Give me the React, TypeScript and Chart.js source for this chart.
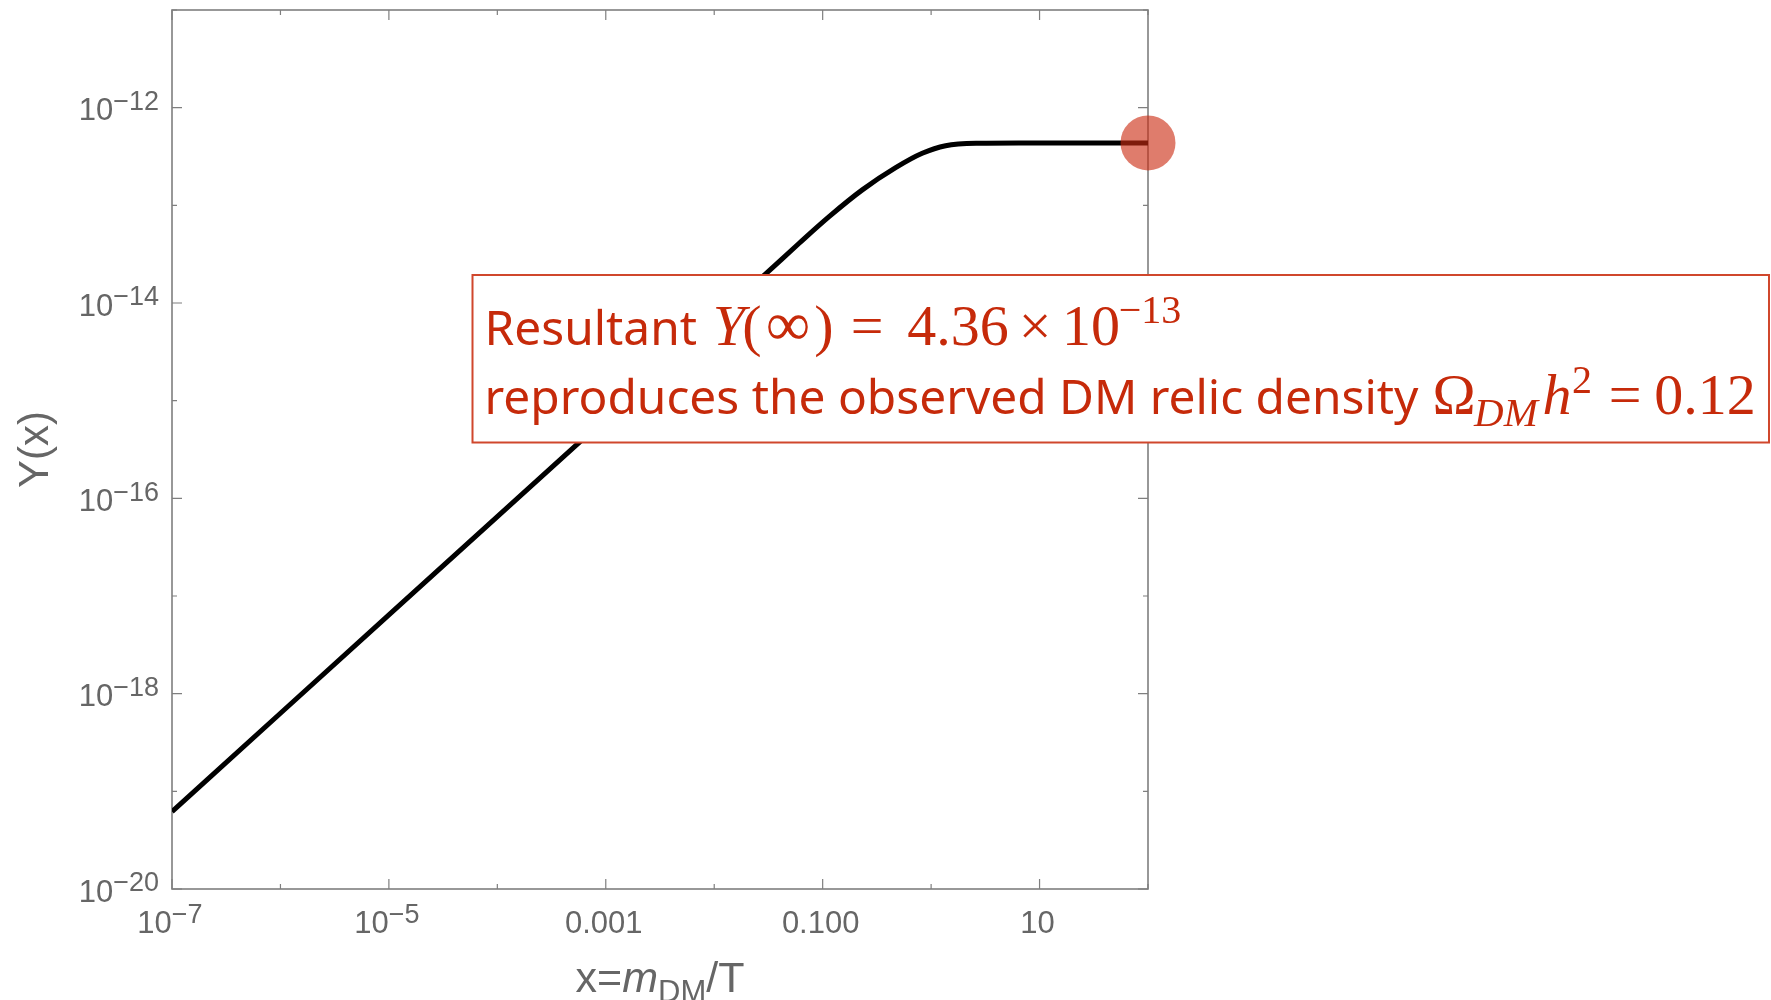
import { useEffect, useRef } from "react";
import { Chart, registerables } from "chart.js";
Chart.register(...registerables);

// Curve Y(x) (log-log)
const xValues = [1e-7, 1e-6, 1e-5, 1e-4, 1e-3, 1e-2, 0.03, 0.0607, 0.1146, 0.232, 0.471, 0.828, 1.36, 2.75, 6.4, 20, 100];
const yValues = [6.2e-20, 6.3e-19, 6.4e-18, 6.5e-17, 6.6e-16, 6.7e-15, 2.0e-14, 4.09e-14, 7.66e-14, 1.44e-13, 2.43e-13, 3.41e-13, 4.08e-13, 4.33e-13, 4.36e-13, 4.36e-13, 4.36e-13];

// Final value marker
const markerX = [100];
const markerY = [4.36e-13];

// Axis ticks
const xMajorTicks = [1e-7, 1e-5, 1e-3, 0.1, 10];
const xMajorLabels: [string, string][] = [["10", "−7"], ["10", "−5"], ["0.001", ""], ["0.100", ""], ["10", ""]];
const xMinorTicks = [1e-6, 1e-4, 1e-2, 1, 100];
const yMajorTicks = [1e-12, 1e-14, 1e-16, 1e-18, 1e-20];
const yMajorLabels: [string, string][] = [["10", "−12"], ["10", "−14"], ["10", "−16"], ["10", "−18"], ["10", "−20"]];
const yMinorTicks = [1e-11, 1e-13, 1e-15, 1e-17, 1e-19];

const X_MIN = 1e-7, X_MAX = 100, Y_MIN = 1e-20, Y_MAX = 1e-11;

const GRAY = "#7f7f7f";
const LABEL = "#666666";
const RED = "#c62a0a";
const SANS = '"Liberation Sans", Arial, sans-serif';
const SERIF = '"Liberation Serif", "Times New Roman", serif';
const TEXT_SANS = '"Noto Sans", sans-serif';

type Run = { text: string; font: string; dy?: number; x?: number; cx?: number };

function runsWidth(ctx: CanvasRenderingContext2D, runs: Run[]) {
  let w = 0;
  for (const r of runs) { ctx.font = r.font; w += ctx.measureText(r.text).width; }
  return w;
}
function drawRuns(ctx: CanvasRenderingContext2D, runs: Run[], x: number, baseline: number) {
  let cx = x;
  for (const r of runs) {
    ctx.font = r.font;
    const w = ctx.measureText(r.text).width;
    let px = cx;
    if (r.x !== undefined) px = r.x;
    if (r.cx !== undefined) px = r.cx - w / 2;
    ctx.fillText(r.text, px, baseline + (r.dy || 0));
    cx = px + w;
  }
}
function labelRuns(l: [string, string]): Run[] {
  const runs: Run[] = [{ text: l[0], font: `31px ${SANS}` }];
  if (l[1]) runs.push({ text: l[1], font: `27px ${SANS}`, dy: -10.5 });
  return runs;
}

const decorPlugin = {
  id: "decor",
  beforeDatasetsDraw(chart: any) {
    const { ctx, chartArea: a, scales } = chart;
    const xs = scales.x, ys = scales.y;
    ctx.save();
    ctx.strokeStyle = GRAY;
    ctx.lineWidth = 1.6;
    ctx.strokeRect(a.left, a.top, a.right - a.left, a.bottom - a.top);
    ctx.lineWidth = 1.2;
    const xt = (v: number, len: number) => {
      const p = xs.getPixelForValue(v);
      ctx.beginPath();
      ctx.moveTo(p, a.bottom); ctx.lineTo(p, a.bottom - len);
      ctx.moveTo(p, a.top); ctx.lineTo(p, a.top + len);
      ctx.stroke();
    };
    const yt = (v: number, len: number) => {
      const p = ys.getPixelForValue(v);
      ctx.beginPath();
      ctx.moveTo(a.left, p); ctx.lineTo(a.left + len, p);
      ctx.moveTo(a.right, p); ctx.lineTo(a.right - len, p);
      ctx.stroke();
    };
    xMajorTicks.forEach((v) => xt(v, 10));
    xMinorTicks.forEach((v) => xt(v, 5));
    yMajorTicks.forEach((v) => yt(v, 10));
    yMinorTicks.forEach((v) => yt(v, 5));
    ctx.restore();
  },
  afterDraw(chart: any) {
    const { ctx, chartArea: a, scales } = chart;
    const xs = scales.x, ys = scales.y;
    ctx.save();
    ctx.fillStyle = LABEL;
    ctx.textBaseline = "alphabetic";
    ctx.textAlign = "left";
    // y tick labels
    yMajorTicks.forEach((v, i) => {
      const runs = labelRuns(yMajorLabels[i]);
      const w = runsWidth(ctx, runs);
      const p = ys.getPixelForValue(v);
      drawRuns(ctx, runs, a.left - 13 - w, p + 12.7);
    });
    // x tick labels
    xMajorTicks.forEach((v, i) => {
      const runs = labelRuns(xMajorLabels[i]);
      const w = runsWidth(ctx, runs);
      const p = xs.getPixelForValue(v);
      drawRuns(ctx, runs, p - w / 2 - 2, a.bottom + 44);
    });
    // axis titles
    ctx.save();
    ctx.translate(48, (a.top + a.bottom) / 2);
    ctx.rotate(-Math.PI / 2);
    ctx.font = `42px ${SANS}`;
    ctx.textAlign = "center";
    ctx.fillText("Y(x)", 0, 0);
    ctx.restore();
    const xt: Run[] = [
      { text: "x=", font: `43px ${SANS}` },
      { text: "m", font: `italic 43px ${SANS}` },
      { text: "DM", font: `31px ${SANS}`, dy: 10 },
      { text: "/T", font: `43px ${SANS}` },
    ];
    const xtw = runsWidth(ctx, xt);
    drawRuns(ctx, xt, (a.left + a.right) / 2 - xtw / 2, 992);

    // annotation box
    const bx = 472.5, by = 275, bw = 1769 - 472.5, bh = 442.5 - 275;
    ctx.fillStyle = "#ffffff";
    ctx.fillRect(bx, by, bw, bh);
    ctx.strokeStyle = "#d0472c";
    ctx.lineWidth = 2;
    ctx.strokeRect(bx, by, bw, bh);

    ctx.fillStyle = RED;
    const line2Sans = "reproduces the observed DM relic density";
    ctx.font = `48px ${TEXT_SANS}`;
    const fs = (48 * 934) / ctx.measureText(line2Sans).width;
    const sansF = `${fs.toFixed(2)}px ${TEXT_SANS}`;
    const M = `58px ${SERIF}`;
    const MI = `italic 58px ${SERIF}`;
    const S = `40px ${SERIF}`;
    const SI = `italic 41px ${SERIF}`;
    const line1: Run[] = [
      { text: "Resultant", font: sansF, x: 484.5 },
      { text: "Y", font: MI, cx: 729 },
      { text: "(", font: M, cx: 752 },
      { text: "∞", font: `62px ${SERIF}`, cx: 788 },
      { text: ")", font: M, cx: 824 },
      { text: "=", font: M, cx: 867 },
      { text: "4.36", font: M, cx: 958 },
      { text: "×", font: M, cx: 1035 },
      { text: "10", font: M, cx: 1091 },
      { text: "−13", font: S, cx: 1150, dy: -22 },
    ];
    drawRuns(ctx, line1, bx, 345);
    const line2: Run[] = [
      { text: line2Sans, font: sansF, x: 484.5 },
      { text: "Ω", font: M, cx: 1454 },
      { text: "DM", font: SI, cx: 1506, dy: 12 },
      { text: "h", font: MI, cx: 1557 },
      { text: "2", font: S, cx: 1582, dy: -21 },
      { text: "=", font: M, cx: 1625 },
      { text: "0.12", font: M, cx: 1705 },
    ];
    drawRuns(ctx, line2, bx, 414);
    ctx.restore();
  },
};

export default function App() {
  const ref = useRef<HTMLCanvasElement | null>(null);
  useEffect(() => {
    if (!ref.current) return;
    const chart = new Chart(ref.current, {
      type: "line",
      data: {
        datasets: [
          {
            type: "scatter",
            data: markerX.map((x, i) => ({ x, y: markerY[i] })),
            pointRadius: 27.5,
            pointHoverRadius: 27.5,
            backgroundColor: "rgba(204,44,18,0.62)",
            borderWidth: 0,
            clip: false,
            order: 0,
          } as any,
          {
            type: "line",
            data: xValues.map((x, i) => ({ x, y: yValues[i] })),
            borderColor: "#000000",
            borderWidth: 5,
            pointRadius: 0,
            cubicInterpolationMode: "monotone",
            fill: false,
            order: 1,
          } as any,
        ],
      },
      options: {
        animation: false,
        responsive: false,
        devicePixelRatio: 1,
        events: [],
        layout: { autoPadding: false, padding: { left: 0, right: 1771 - 1148, top: 10, bottom: 0 } },
        plugins: { legend: { display: false }, tooltip: { enabled: false } },
        scales: {
          x: {
            type: "logarithmic",
            min: X_MIN,
            max: X_MAX,
            grid: { display: false },
            border: { display: false },
            ticks: { display: false },
            afterFit: (s: any) => { s.height = 111; },
          },
          y: {
            type: "logarithmic",
            min: Y_MIN,
            max: Y_MAX,
            grid: { display: false },
            border: { display: false },
            ticks: { display: false },
            afterFit: (s: any) => { s.width = 172; },
          },
        },
      } as any,
      plugins: [decorPlugin],
    });
    return () => chart.destroy();
  }, []);
  return (
    <div style={{ position: "fixed", left: 0, top: 0, width: 1771, height: 1000, background: "#fff" }}>
      <canvas ref={ref} width={1771} height={1000} style={{ width: 1771, height: 1000, display: "block" }} />
    </div>
  );
}
